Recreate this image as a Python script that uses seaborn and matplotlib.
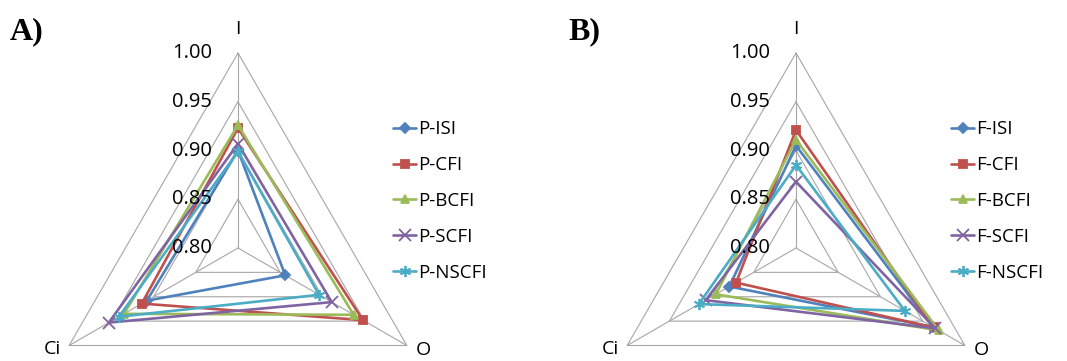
import numpy as np
import matplotlib
matplotlib.use("Agg")
import matplotlib.pyplot as plt
import seaborn as sns

# radar spokes
spokes = ["I", "O", "Ci"]
spoke_deg = [90, 330, 210]
ring_values = [0.85, 0.90, 0.95, 1.00]
tick_values = [1.00, 0.95, 0.90, 0.85, 0.80]
tick_labels = ["1.00", "0.95", "0.90", "0.85", "0.80"]

# panel A (P-*)
p_names = ["P-ISI", "P-CFI", "P-BCFI", "P-SCFI", "P-NSCFI"]
p_I = [0.900, 0.923, 0.926, 0.907, 0.899]
p_O = [0.856, 0.948, 0.937, 0.911, 0.896]
p_Ci = [0.908, 0.914, 0.935, 0.953, 0.941]

# panel B (F-*)
f_names = ["F-ISI", "F-CFI", "F-BCFI", "F-SCFI", "F-NSCFI"]
f_I = [0.905, 0.921, 0.911, 0.868, 0.885]
f_O = [0.962, 0.963, 0.969, 0.965, 0.929]
f_Ci = [0.879, 0.871, 0.895, 0.907, 0.915]

colors = ["#4F81BD", "#C0504D", "#9BBB59", "#8064A2", "#4BACC6"]
markers = ["D", "s", "^", "x", (6, 2, 0)]
msizes = [5, 6, 6, 8, 8]

sns.set_style("white")
plt.rcParams["font.family"] = ["Open Sans", "DejaVu Sans"]
plt.rcParams["text.color"] = "black"

fig = plt.figure(figsize=(10.67, 3.61), dpi=100)

theta = np.deg2rad(spoke_deg + [spoke_deg[0] + 360])
R = 195  # pixel radius of the 1.00 ring


def radar(cx, tag, names, vI, vO, vCi, legend_x):
    W, H = 1067, 361
    cy = 248
    ax = fig.add_axes([(cx - R) / W, (H - cy - R) / H, 2 * R / W, 2 * R / H],
                      projection="polar")
    ax.set_facecolor("none")
    ax.spines["polar"].set_visible(False)
    ax.set_ylim(0.80, 1.00)
    ax.set_thetagrids(spoke_deg, labels=[""] * 3)
    ax.set_yticks([])
    ax.xaxis.grid(True, color="#A6A6A6", lw=0.8)
    ax.yaxis.grid(False)

    for v in ring_values:
        ax.plot(theta, [v] * 4, color="#A6A6A6", lw=0.8, clip_on=False, zorder=1)

    for i, name in enumerate(names):
        r = [vI[i], vO[i], vCi[i], vI[i]]
        sns.lineplot(x=theta, y=r, ax=ax, sort=False, estimator=None,
                     color=colors[i], lw=1.9, marker=markers[i],
                     markersize=msizes[i], markeredgewidth=1.3,
                     markeredgecolor=colors[i], markevery=[0, 1, 2],
                     label=name, legend=False, clip_on=False, zorder=3)

    for v, lab in zip(tick_values, tick_labels):
        ax.annotate(lab, xy=(np.pi / 2, v), xytext=(-26, 0),
                    textcoords="offset pixels", ha="right", va="center",
                    fontsize=14.5, annotation_clip=False, zorder=5)

    offs = [((0, 24), "center"), ((9, -4), "left"), ((-8, -4), "right")]
    for lab, deg, (off, ha) in zip(spokes, spoke_deg, offs):
        ax.annotate(lab, xy=(np.deg2rad(deg), 1.0), xytext=off,
                    textcoords="offset pixels", ha=ha, va="center",
                    fontsize=14, annotation_clip=False)

    ax.set_xlabel("")
    ax.set_ylabel("")
    ax.legend(loc="center left", bbox_to_anchor=(legend_x / W, 1 - 201 / H),
              bbox_transform=fig.transFigure, frameon=False, fontsize=13.5,
              handlelength=1.25, handletextpad=0.1, labelspacing=0.95,
              borderpad=0, borderaxespad=0)
    fig.text((cx - 228) / W, 1 - 32 / H, tag, fontsize=23, fontweight="bold",
             family="Liberation Serif", ha="left", va="center")
    return ax


radar(238, "A)", p_names, p_I, p_O, p_Ci, 393)
radar(796, "B)", f_names, f_I, f_O, f_Ci, 951)

fig.savefig("out.png", dpi=100)
